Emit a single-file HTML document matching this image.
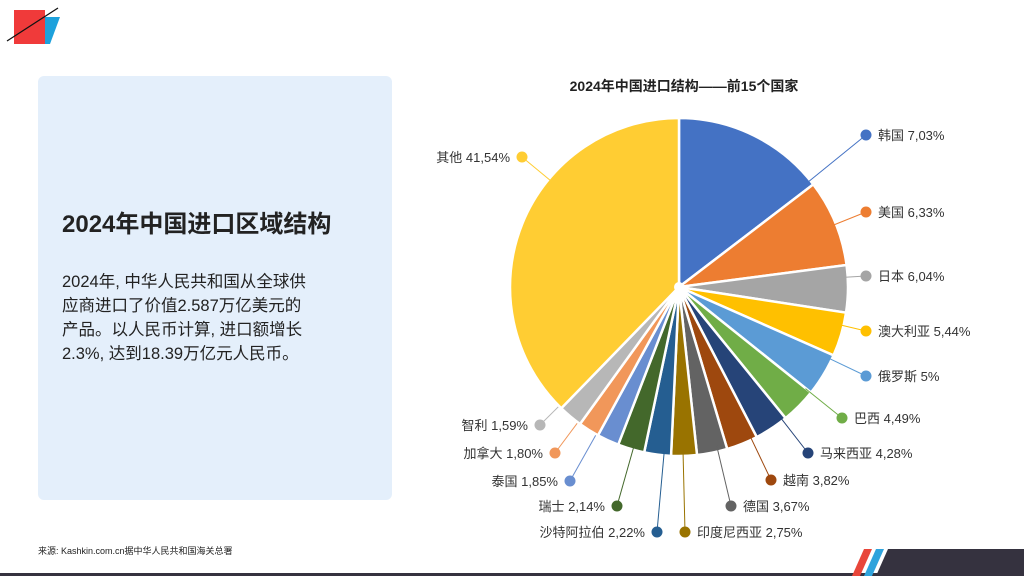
<!DOCTYPE html>
<html><head><meta charset="utf-8"><style>
body{margin:0;width:1024px;height:576px;overflow:hidden;background:#fff;font-family:"Liberation Sans","Noto Sans CJK SC",sans-serif;position:relative}
.panel{position:absolute;left:38px;top:76px;width:354px;height:424px;background:#e4effb;border-radius:6px}
h1{position:absolute;left:24px;top:128px;margin:0;font-size:24px;font-weight:bold;color:#222}
.body{position:absolute;left:24px;top:194px;font-size:16.5px;line-height:24px;color:#222;width:320px}
.src{position:absolute;left:38px;top:544px;font-size:9px;color:#222}
</style></head><body>
<svg style="position:absolute;left:0;top:0" width="70" height="50">
<polygon points="44,17 60,17 50,44 44,44" fill="#1da1dc"/>
<rect x="14" y="10" width="31" height="34" fill="#f03a3a"/>
<line x1="7" y1="41" x2="58" y2="8" stroke="#111" stroke-width="1.3"/>
</svg>
<div class="panel">
<h1>2024年中国进口区域结构</h1>
<div class="body">2024年, 中华人民共和国从全球供<br>应商进口了价值2.587万亿美元的<br>产品。以人民币计算, 进口额增长<br>2.3%, 达到18.39万亿元人民币。</div>
</div>
<div class="src">来源: Kashkin.com.cn据中华人民共和国海关总署</div>
<svg style="position:absolute;left:0;top:540px" width="1024" height="36">
<rect x="0" y="33" width="1024" height="3" fill="#35323f"/>
<polygon points="888,9 1024,9 1024,36 876,36" fill="#35323f"/>
<polygon points="864,9 872,9 860,36 852,36" fill="#e8463a"/>
<polygon points="876,9 884,9 872,36 864,36" fill="#2fa3dc"/>
</svg>
<svg id="chart" style="position:absolute;left:0;top:0" width="1024" height="576"></svg>
<script>
const countries=["韩国","美国","日本","澳大利亚","俄罗斯","巴西","马来西亚","越南","德国","印度尼西亚","沙特阿拉伯","瑞士","泰国","加拿大","智利","其他"];
const labelValues=["7,03%","6,33%","6,04%","5,44%","5%","4,49%","4,28%","3,82%","3,67%","2,75%","2,22%","2,14%","1,85%","1,80%","1,59%","41,54%"];
const sliceWeights=[14.6,8.3,4.5,4.2,4.1,3.4,3.25,3.0,2.9,2.45,2.55,2.55,2.1,2.0,2.3,37.7];
const colors=["#4472c4","#ed7d31","#a5a5a5","#ffc000","#5b9bd5","#70ad47","#264478","#9e480e","#636363","#997300","#255e91","#43682b","#698ed0","#f1975a","#b7b7b7","#ffcd33"];
const dots=[[866,135],[866,212],[866,276],[866,331],[866,376],[842,418],[808,453],[771,480],[731,506],[685,532],[657,532],[617,506],[570,481],[555,453],[540,425],[522,157]];
const NS="http://www.w3.org/2000/svg";
const svg=document.getElementById('chart');
const cx=679,cy=287,R=169;
function mk(t,a){const e=document.createElementNS(NS,t);for(const k in a)e.setAttribute(k,a[k]);svg.appendChild(e);return e;}
const title=mk('text',{x:684,y:91,'text-anchor':'middle','font-size':14,'font-weight':'bold',fill:'#222'});
title.textContent="2024年中国进口结构——前15个国家";


const total=sliceWeights.reduce((a,b)=>a+b,0);
function pt(a,r){return [cx+r*Math.sin(a),cy-r*Math.cos(a)];}
let acc=0;
sliceWeights.forEach((w,i)=>{
 const a0=acc/total*2*Math.PI;acc+=w;const a1=acc/total*2*Math.PI;
 const p0=pt(a0,R),p1=pt(a1,R);
 const path=mk('path',{d:`M${cx},${cy}L${p0[0]},${p0[1]}A${R},${R} 0 ${a1-a0>Math.PI?1:0} 1 ${p1[0]},${p1[1]}Z`,fill:colors[i],stroke:'#fff','stroke-width':2.5});
 
 
 const d=dots[i];
 const dx=d[0]-cx,dy=d[1]-cy,L=Math.hypot(dx,dy);
 const ps=[cx+dx/L*R*0.96,cy+dy/L*R*0.96];
 const ln=mk('line',{x1:ps[0],y1:ps[1],x2:d[0],y2:d[1],stroke:colors[i],'stroke-width':1});
 
 
 const c=mk('circle',{cx:d[0],cy:d[1],r:5.5,fill:colors[i]});
 
 
 const right=d[0]>cx || i===9;
 const t=mk('text',{x:right?d[0]+12:d[0]-12,y:d[1]+5,'text-anchor':right?'start':'end','font-size':13,fill:'#333'});
 t.textContent=countries[i]+" "+labelValues[i];
 
 
});
mk('circle',{cx:cx,cy:cy,r:5,fill:'#fff'});
</script>
</body></html>
